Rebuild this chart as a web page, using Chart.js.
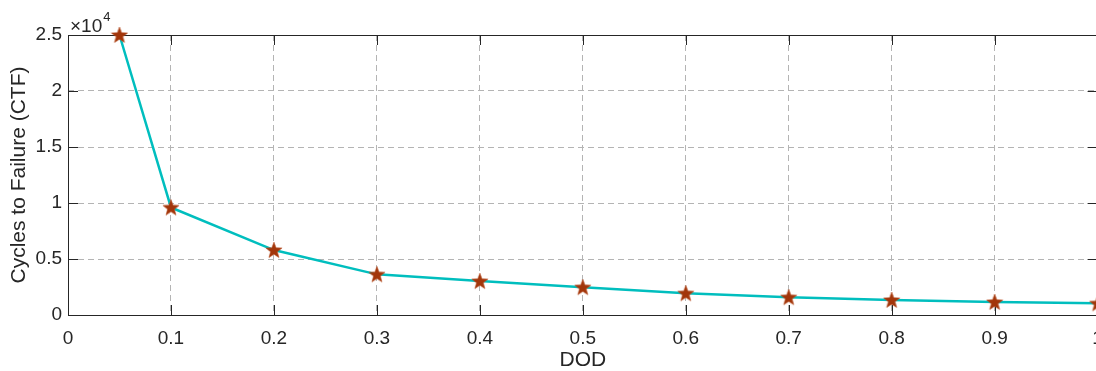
<!DOCTYPE html>
<html>
<head>
<meta charset="utf-8">
<script src="https://cdn.jsdelivr.net/npm/chart.js@4.4.1/dist/chart.umd.min.js"></script>
<style>
  html, body { margin: 0; padding: 0; background: #fff; overflow: hidden; }
  #wrap { width: 1120px; height: 371px; }
</style>
</head>
<body>
<div id="wrap"><canvas id="ctfChart" width="1120" height="371"></canvas></div>
<script>
// depth of discharge vs cycles to failure
var dod = [0.05, 0.1, 0.2, 0.3, 0.4, 0.5, 0.6, 0.7, 0.8, 0.9, 1.0];
var cycles = [25000, 9600, 5800, 3630, 3030, 2480, 1940, 1590, 1340, 1160, 1040];

var xTicks = [0, 0.1, 0.2, 0.3, 0.4, 0.5, 0.6, 0.7, 0.8, 0.9, 1];
var xTickLabels = ['0', '0.1', '0.2', '0.3', '0.4', '0.5', '0.6', '0.7', '0.8', '0.9', '1'];
var yTicks = [0, 5000, 10000, 15000, 20000, 25000];
var yTickLabels = ['0', '0.5', '1', '1.5', '2', '2.5'];
var yExponent = '4';

var textColor = '#262626';
var gridColor = '#b4b4b4';
var fontFamily = '"Liberation Sans", Arial, Helvetica, sans-serif';

// filled five point star for the markers
function makeStar(size, color) {
  var c = document.createElement('canvas');
  c.width = size; c.height = size;
  var g = c.getContext('2d');
  var cx = size / 2, cy = size / 2 + 0.6, ro = size / 2 - 0.5, ri = ro * 0.42;
  g.beginPath();
  for (var i = 0; i < 10; i++) {
    var r = i % 2 === 0 ? ro : ri;
    var ang = -Math.PI / 2 + i * Math.PI / 5;
    var px = cx + r * Math.cos(ang), py = cy + r * Math.sin(ang);
    if (i === 0) g.moveTo(px, py); else g.lineTo(px, py);
  }
  g.closePath();
  g.fillStyle = color;
  g.fill();
  g.lineWidth = 0.6;
  g.strokeStyle = '#b8542a';
  g.stroke();
  return c;
}
var starImg = makeStar(18, '#a2360b');

// box around the axes with inward tick marks, plus the x10^4 multiplier
var boxAxes = {
  id: 'boxAxes',
  beforeDatasetsDraw: function(chart) {
    var ctx = chart.ctx, a = chart.chartArea;
    var xs = chart.scales.x, ys = chart.scales.y;
    var len = 10;
    ctx.save();
    ctx.strokeStyle = textColor;
    ctx.lineWidth = 1;
    ctx.beginPath();
    xTicks.forEach(function(v) {
      var px = Math.round(xs.getPixelForValue(v)) + 0.5;
      ctx.moveTo(px, a.bottom); ctx.lineTo(px, a.bottom - len);
      ctx.moveTo(px, a.top); ctx.lineTo(px, a.top + len);
    });
    yTicks.forEach(function(v) {
      var py = Math.round(ys.getPixelForValue(v)) + 0.5;
      ctx.moveTo(a.left, py); ctx.lineTo(a.left + len, py);
      ctx.moveTo(a.right, py); ctx.lineTo(a.right - len, py);
    });
    ctx.rect(Math.round(a.left) + 0.5, Math.round(a.top) + 0.5,
             Math.round(a.right - a.left), Math.round(a.bottom - a.top));
    ctx.stroke();

    ctx.fillStyle = textColor;
    ctx.textBaseline = 'alphabetic';
    ctx.textAlign = 'left';
    ctx.font = '19px ' + fontFamily;
    ctx.fillText('\u00d710', a.left + 2, a.top - 3);
    var w = ctx.measureText('\u00d710').width;
    ctx.font = '13px ' + fontFamily;
    ctx.fillText(yExponent, a.left + 3 + w, a.top - 14);
    ctx.restore();
  }
};

var ctx = document.getElementById('ctfChart').getContext('2d');
var myChart = new Chart(ctx, {
  type: 'line',
  data: {
    datasets: [{
      label: 'CTF',
      data: dod.map(function(d, i) { return { x: d, y: cycles[i] }; }),
      borderColor: '#00bebe',
      borderWidth: 2.5,
      tension: 0,
      fill: false,
      clip: false,
      pointStyle: starImg,
      pointRadius: 9,
      pointHoverRadius: 9
    }]
  },
  options: {
    responsive: false,
    animation: false,
    layout: { padding: { left: 0, top: 35, right: 22.4, bottom: 0 } },
    plugins: {
      legend: { display: false },
      tooltip: { enabled: false }
    },
    scales: {
      x: {
        type: 'linear',
        min: 0,
        max: 1,
        afterBuildTicks: function(scale) {
          scale.ticks = xTicks.map(function(v) { return { value: v }; });
        },
        afterFit: function(scale) {
          scale.height = 56;
          scale.paddingLeft = 0;
          scale.paddingRight = 0;
        },
        ticks: {
          autoSkip: false,
          maxRotation: 0,
          padding: 12,
          color: textColor,
          font: { family: fontFamily, size: 19 },
          callback: function(v) { return xTickLabels[xTicks.indexOf(v)]; }
        },
        grid: { color: gridColor, lineWidth: 1, drawTicks: false },
        border: { display: false, dash: [6, 4] },
        title: {
          display: true,
          text: 'DOD',
          color: textColor,
          font: { family: fontFamily, size: 21, lineHeight: 1 },
          padding: { top: 0, bottom: 0 }
        }
      },
      y: {
        type: 'linear',
        min: 0,
        max: 25000,
        afterBuildTicks: function(scale) {
          scale.ticks = yTicks.map(function(v) { return { value: v }; });
        },
        afterFit: function(scale) {
          scale.width = 68;
          scale.paddingTop = 0;
          scale.paddingBottom = 0;
        },
        ticks: {
          autoSkip: false,
          padding: 6,
          color: textColor,
          font: { family: fontFamily, size: 19 },
          callback: function(v) { return yTickLabels[yTicks.indexOf(v)]; }
        },
        grid: { color: gridColor, lineWidth: 1, drawTicks: false },
        border: { display: false, dash: [6, 4] },
        title: {
          display: true,
          text: 'Cycles to Failure (CTF)',
          color: textColor,
          font: { family: fontFamily, size: 21, lineHeight: 1 },
          padding: { top: 9, bottom: 0 }
        }
      }
    }
  },
  plugins: [boxAxes]
});
</script>
</body>
</html>
